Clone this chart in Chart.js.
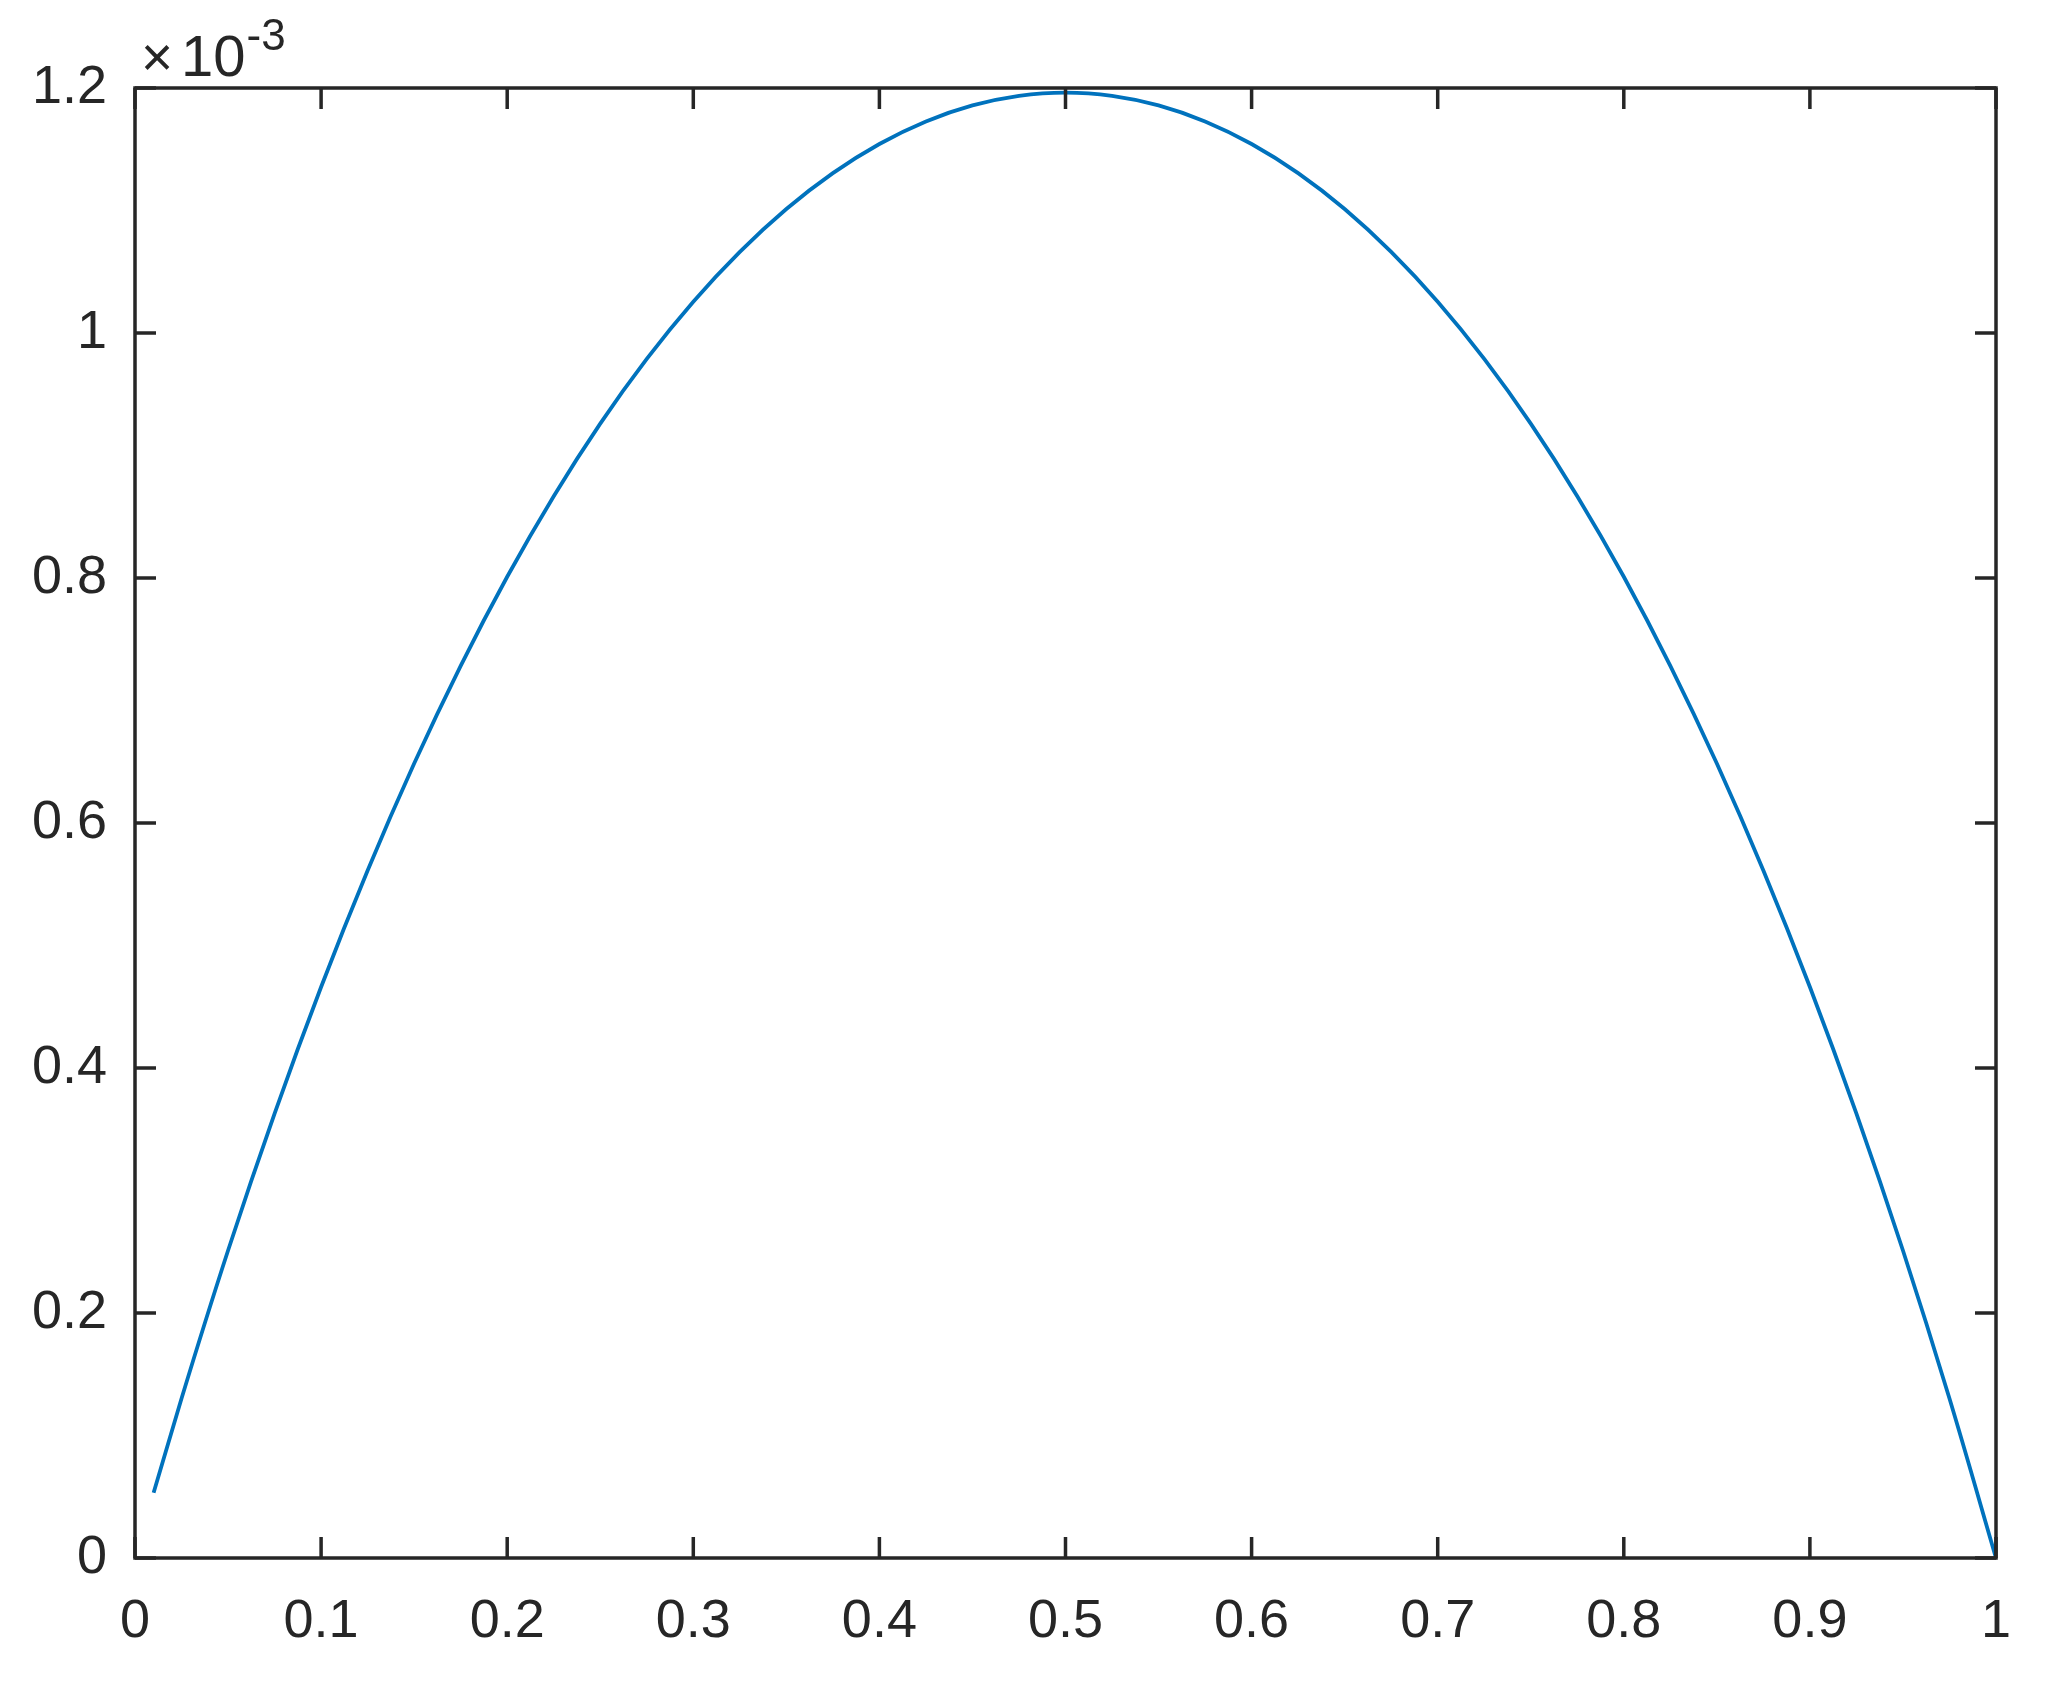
<!DOCTYPE html>
<html>
<head>
<meta charset="utf-8">
<title>Curve</title>
<script src="https://cdn.jsdelivr.net/npm/chart.js@4.4.1/dist/chart.umd.min.js"></script>
<style>
  html, body { margin: 0; padding: 0; background: #ffffff; }
  canvas { display: block; }
</style>
</head>
<body>
<canvas id="curveChart" width="2051" height="1696"></canvas>
<script>
// x positions and y values (y in units of 1e-3, as on the axis)
const xValues = [0.01, 0.025, 0.05, 0.075, 0.1, 0.125, 0.15, 0.175, 0.2, 0.225,
                 0.25, 0.275, 0.3, 0.325, 0.35, 0.375, 0.4, 0.425, 0.45, 0.475,
                 0.5, 0.525, 0.55, 0.575, 0.6, 0.625, 0.65, 0.675, 0.7, 0.725,
                 0.75, 0.775, 0.8, 0.825, 0.85, 0.875, 0.9, 0.925, 0.95, 0.975, 1.0];
const yValues = [0.0532, 0.1302, 0.2510, 0.3628, 0.4661, 0.5612, 0.6485, 0.7283, 0.8010, 0.8668,
                 0.9260, 0.9788, 1.0255, 1.0662, 1.1012, 1.1305, 1.1543, 1.1727, 1.1858, 1.1936,
                 1.1963, 1.1936, 1.1858, 1.1727, 1.1543, 1.1305, 1.1012, 1.0662, 1.0255, 0.9788,
                 0.9260, 0.8668, 0.8010, 0.7283, 0.6485, 0.5612, 0.4661, 0.3628, 0.2510, 0.1302, 0.0];
const xTicks = [0, 0.1, 0.2, 0.3, 0.4, 0.5, 0.6, 0.7, 0.8, 0.9, 1];
const yTicks = [0, 0.2, 0.4, 0.6, 0.8, 1, 1.2];
const yExponent = '-3';

const axisColor = '#262626';
const lineColor = '#0072BD';
const fontFamily = '"Liberation Sans", Arial, Helvetica, sans-serif';

// "0.30000000000000004" -> "0.3", "1.0" -> "1"
const fmt = v => String(Number(Number(v).toFixed(1)));

document.addEventListener('DOMContentLoaded', () => {
    const ctx = document.getElementById('curveChart').getContext('2d');

    // box around the plot with inward ticks on all four sides, plus the x10^-3 label
    const boxAxes = {
        id: 'boxAxes',
        afterDraw(chart) {
            const { ctx, chartArea: a, scales } = chart;
            const tickLen = 21;
            ctx.save();
            ctx.strokeStyle = axisColor;
            ctx.lineWidth = 3.5;
            ctx.lineCap = 'butt';
            ctx.strokeRect(a.left, a.top, a.right - a.left, a.bottom - a.top);

            ctx.beginPath();
            xTicks.forEach(v => {
                const px = scales.x.getPixelForValue(v);
                ctx.moveTo(px, a.bottom); ctx.lineTo(px, a.bottom - tickLen);
                ctx.moveTo(px, a.top); ctx.lineTo(px, a.top + tickLen);
            });
            yTicks.forEach(v => {
                const py = scales.y.getPixelForValue(v);
                ctx.moveTo(a.left, py); ctx.lineTo(a.left + tickLen, py);
                ctx.moveTo(a.right, py); ctx.lineTo(a.right - tickLen, py);
            });
            ctx.stroke();

            // multiplier text above the y axis
            ctx.fillStyle = axisColor;
            ctx.textBaseline = 'alphabetic';
            ctx.textAlign = 'left';
            ctx.font = '55px ' + fontFamily;
            ctx.fillText('\u00d7', a.left + 6, a.top - 12);
            ctx.font = '58px ' + fontFamily;
            ctx.fillText('10', a.left + 46, a.top - 12);
            const w = ctx.measureText('10').width;
            ctx.font = '44px ' + fontFamily;
            ctx.fillText(yExponent, a.left + 46 + w + 1, a.top - 38);
            ctx.restore();
        }
    };

    new Chart(ctx, {
        type: 'line',
        data: {
            datasets: [{
                data: xValues.map((x, i) => ({ x: x, y: yValues[i] })),
                borderColor: lineColor,
                borderWidth: 3.8,
                pointRadius: 0,
                fill: false,
                cubicInterpolationMode: 'monotone'
            }]
        },
        options: {
            responsive: false,
            animation: false,
            devicePixelRatio: 1,
            layout: { padding: { top: 88, right: 55, bottom: 0, left: 0 } },
            plugins: {
                legend: { display: false },
                tooltip: { enabled: false }
            },
            scales: {
                x: {
                    type: 'linear',
                    min: 0,
                    max: 1,
                    grid: { display: false },
                    border: { display: false },
                    afterFit: scale => {
                        scale.height = 138;
                        scale.paddingLeft = 0;
                        scale.paddingRight = 0;
                    },
                    afterBuildTicks: scale => { scale.ticks = xTicks.map(v => ({ value: v })); },
                    ticks: {
                        color: axisColor,
                        padding: 24,
                        maxRotation: 0,
                        autoSkip: false,
                        callback: fmt,
                        font: { family: fontFamily, size: 54 }
                    }
                },
                y: {
                    type: 'linear',
                    min: 0,
                    max: 1.2,
                    grid: { display: false },
                    border: { display: false },
                    afterFit: scale => {
                        scale.width = 135;
                        scale.paddingTop = 0;
                        scale.paddingBottom = 0;
                    },
                    afterBuildTicks: scale => { scale.ticks = yTicks.map(v => ({ value: v })); },
                    ticks: {
                        color: axisColor,
                        padding: 20,
                        autoSkip: false,
                        callback: fmt,
                        font: { family: fontFamily, size: 54 }
                    }
                }
            }
        },
        plugins: [boxAxes]
    });
});
</script>
</body>
</html>
